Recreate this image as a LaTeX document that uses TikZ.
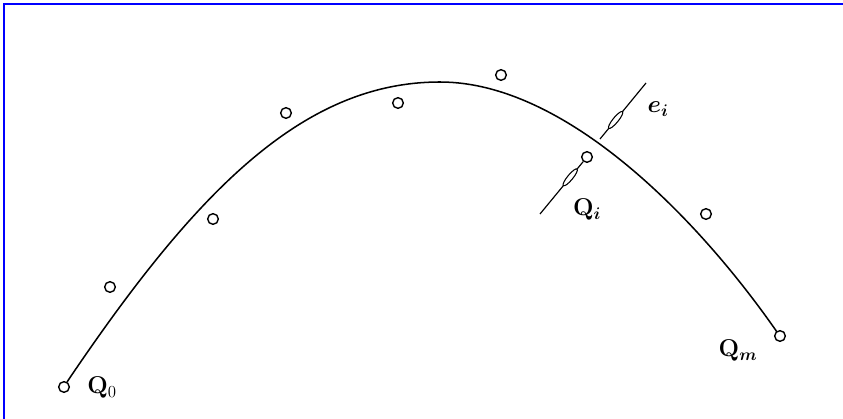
\documentclass[tikz,border=0pt]{standalone}
\usepackage{amsmath,amssymb}
\usepackage{xcolor}
\definecolor{frameblue}{RGB}{0, 0, 255}
\usepackage{tikz}
\usetikzlibrary{arrows.meta, positioning, shapes.geometric}

\begin{document}
\begin{tikzpicture}[x=0.3mm, y=-0.3mm,
    datapt/.style={circle, draw, line width=1.2pt, minimum size=3.2mm, inner sep=0pt, fill=white},
    errmark/.style={ellipse, draw, line width=0.9pt, fill=white, minimum width=6.5mm, minimum height=1.6mm, inner sep=0pt, sloped},
    lbl/.style={font=\fontsize{22}{26}\selectfont}]
    \useasboundingbox (0,0) rectangle (843,419);
    \draw[frameblue, line width=2.1pt] (4,419) -- (4,4) -- (843,4);

    % fitted curve
    \draw[line width=1.3pt] (67,382) .. controls (195.6,191.3) and (303,82) .. (440,82)
        .. controls (565,82) and (697.2,217.2) .. (777,332);

    % data points
    \node[datapt] (Q0) at (64,387) {};
    \node[datapt] (P1) at (110,287) {};
    \node[datapt] (P2) at (213,219) {};
    \node[datapt] (P3) at (286,113) {};
    \node[datapt] (P4) at (398,103) {};
    \node[datapt] (P5) at (501,75) {};
    \node[datapt] (Qi) at (587,157) {};
    \node[datapt] (P7) at (706,214) {};
    \node[datapt] (Qm) at (780,336) {};

    % error e_i
    \coordinate (eTop) at (646,83);
    \coordinate (foot) at (600,139);
    \coordinate (qLow) at (540,214);
    \draw[line width=1pt] (eTop) -- (foot) node[errmark, pos=0.66] {};
    \draw[line width=1pt] (qLow) -- (Qi) node[errmark, pos=0.7] {};

    \node[lbl] (lQ0) at (102,388) {$\mathbf{Q}_0$};
    \node[lbl] (lQi) at (587,210) {$\mathbf{Q}_{\boldsymbol{i}}$};
    \node[lbl] (lQm) at (738,351) {$\mathbf{Q}_{\boldsymbol{m}}$};
    \node[lbl] (lei) at (658,109) {$\boldsymbol{e}_{\boldsymbol{i}}$};
\end{tikzpicture}
\end{document}
